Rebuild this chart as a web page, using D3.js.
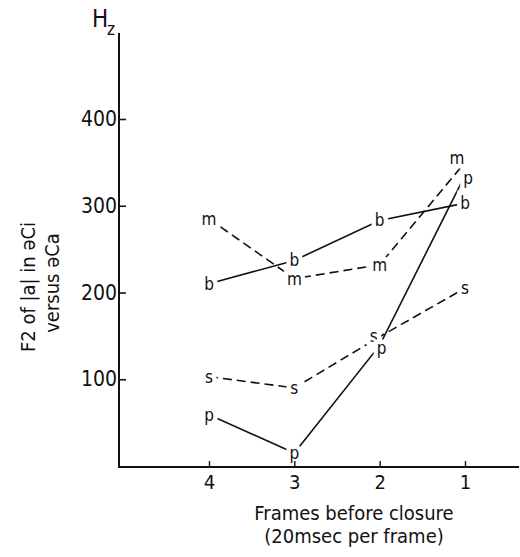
<!DOCTYPE html>
<html>
<head>
<meta charset="utf-8">
<script src="https://cdn.jsdelivr.net/npm/d3@7"></script>
<style>
  body { margin: 0; background: #fff; }
  svg text { font-family: "DejaVu Sans Condensed", "DejaVu Sans", sans-serif; fill: #111; }
</style>
</head>
<body>
<div id="chart"></div>
<script>
var width = 520,
    height = 557;

// frames before closure
var frames = [4, 3, 2, 1];
// F2 (Hz) per consonant
var bValues = [210, 237, 283, 303];
var mValues = [285, 216, 232, 350];
var sValues = [103, 90, 149, 205];
var pValues = [59, 15, 139, 335];
var yTicks = [100, 200, 300, 400];

var series = [
  { key: "b", values: bValues, dashed: false },
  { key: "m", values: mValues, dashed: true },
  { key: "s", values: sValues, dashed: true },
  { key: "p", values: pValues, dashed: false }
];

// small nudges where two letters sit on the same frame
var nudge = { "m1": [-8, -4], "p1": [3, 3], "s2": [-6, -1], "p2": [2, 3] };

var svg = d3.select("#chart").append("svg")
    .attr("width", width)
    .attr("height", height);

// marks go underneath, axes drawn over them
var marks = svg.append("g");
var axes = svg.append("g");

var x = d3.scaleLinear().domain([4, 1]).range([209, 465]);
var y = d3.scaleLinear().domain([0, 400]).range([466, 119]);

// y axis
var yAxis = d3.axisLeft(y)
    .tickValues(yTicks)
    .tickSizeInner(-7)
    .tickSizeOuter(0)
    .tickPadding(2)
    .tickFormat(d3.format("d"));

var gy = axes.append("g").attr("transform", "translate(119,0)").call(yAxis);
gy.select(".domain").remove();
gy.selectAll(".tick line").attr("stroke", "#111").attr("stroke-width", 1.6);
gy.selectAll(".tick text").style("font-size", "21px").attr("fill", "#111");
axes.append("line")
    .attr("x1", 119).attr("x2", 119)
    .attr("y1", 33).attr("y2", 468)
    .attr("stroke", "#111").attr("stroke-width", 2);

// x axis
var xAxis = d3.axisBottom(x)
    .tickValues(frames)
    .tickSizeInner(-6)
    .tickSizeOuter(0)
    .tickPadding(8)
    .tickFormat(d3.format("d"));

var gx = axes.append("g").attr("transform", "translate(0," + (y(0) + 1) + ")").call(xAxis);
gx.select(".domain").remove();
gx.selectAll(".tick line").attr("stroke", "#111").attr("stroke-width", 1.4);
gx.selectAll(".tick text").style("font-size", "20px").attr("fill", "#111");
axes.append("line")
    .attr("x1", 119).attr("x2", 519)
    .attr("y1", y(0) + 1).attr("y2", y(0) + 1)
    .attr("stroke", "#111").attr("stroke-width", 2);

// axis titles
axes.append("text").attr("x", 92).attr("y", 27).style("font-size", "24px").text("H");
axes.append("text").attr("x", 107).attr("y", 35).style("font-size", "17px").text("z");

axes.append("text")
    .attr("transform", "translate(28,287) rotate(-90)")
    .attr("text-anchor", "middle")
    .attr("dominant-baseline", "central")
    .style("font-size", "20px")
    .text("F2 of |a| in əCi");
axes.append("text")
    .attr("transform", "translate(52,283) rotate(-90)")
    .attr("text-anchor", "middle")
    .attr("dominant-baseline", "central")
    .style("font-size", "20px")
    .text("versus əCa");

axes.append("text")
    .attr("x", 354).attr("y", 520)
    .attr("text-anchor", "middle")
    .style("font-size", "20px")
    .text("Frames before closure");
axes.append("text")
    .attr("x", 354).attr("y", 543)
    .attr("text-anchor", "middle")
    .style("font-size", "20px")
    .text("(20msec per frame)");

// lines
var line = d3.line()
    .x(function(d, i) { return x(frames[i]); })
    .y(function(d) { return y(d); });

series.forEach(function(s) {
  marks.append("path")
      .datum(s.values)
      .attr("d", line)
      .attr("fill", "none")
      .attr("stroke", "#111")
      .attr("stroke-width", 1.6)
      .attr("stroke-dasharray", s.dashed ? "9,5" : null);
});

// letter markers, with a white halo so the lines stop short of them
series.forEach(function(s) {
  s.values.forEach(function(v, i) {
    var off = nudge[s.key + frames[i]] || [0, 0];
    marks.append("text")
        .attr("x", x(frames[i]) + off[0])
        .attr("y", y(v) + off[1])
        .attr("text-anchor", "middle")
        .attr("dominant-baseline", "central")
        .style("font-size", "17px")
        .style("paint-order", "stroke")
        .attr("stroke", "#fff")
        .attr("stroke-width", 9)
        .text(s.key);
  });
});
</script>
</body>
</html>
